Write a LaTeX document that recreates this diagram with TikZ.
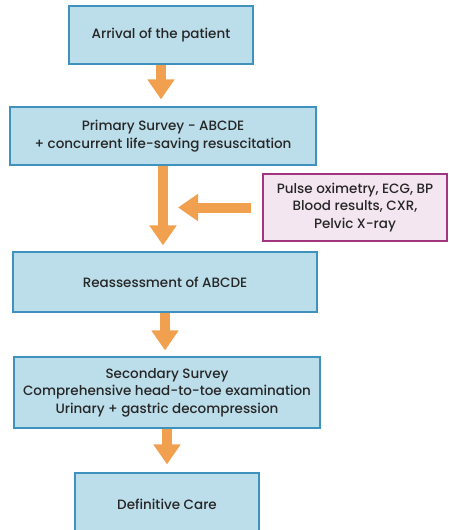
\documentclass[tikz,border=0pt]{standalone}
\usepackage{fontspec}
\setmainfont{Poppins}[UprightFont={* Medium}]
\usepackage{tikz}
\usetikzlibrary{arrows.meta}
\definecolor{bleu}{HTML}{BCDDEA}
\definecolor{bleufonce}{HTML}{3E92BD}
\definecolor{rose}{HTML}{F4E6F1}
\definecolor{violet}{HTML}{A2357F}
\definecolor{orangef}{HTML}{F0A04E}
\tikzset{boite/.style={
    draw=bleufonce,
    fill=bleu,
    line width=1.2pt,
    align=center,
    inner sep=0pt,
    text=black!85,
    font=\fontsize{13.5}{17.5}\selectfont}}
\tikzset{examen/.style={
    boite,
    draw=violet,
    fill=rose}}
\tikzset{fleche/.style={
    draw=orangef,
    line width=10pt,
    -{Triangle[length=20pt,width=26pt]}}}

\begin{document}
\begin{tikzpicture}[x=1pt,y=-1pt]
\useasboundingbox (0,0) rectangle (448,530);

  % boîtes
\node[boite, minimum width=184pt, minimum height=58pt] (arrivee) at (161,35) {Arrival of the patient};
\node[boite, minimum width=306pt, minimum height=58pt] (primaire) at (163,136)
  {Primary Survey - ABCDE\\+ concurrent life-saving resuscitation};
\node[examen, minimum width=184pt, minimum height=67pt] (examens) at (355,207.5)
  {Pulse oximetry, ECG, BP\\Blood results, CXR,\\Pelvic X-ray};
\node[boite, minimum width=304pt, minimum height=60pt] (reeval) at (165,282) {Reassessment of ABCDE};
\node[boite, minimum width=306pt, minimum height=71pt] (secondaire) at (167,392.5)
  {Secondary Survey\\Comprehensive head-to-toe examination\\Urinary + gastric decompression};
\node[boite, minimum width=184pt, minimum height=62pt] (definitif) at (167,504) {Definitive Care};

  % flèches
\draw[fleche, shorten >=7pt] (arrivee.south) -- (arrivee.south |- primaire.north);
\draw[fleche, shorten >=6pt] (primaire.south) -- (primaire.south |- reeval.north);
\draw[fleche, shorten <=11pt, shorten >=15pt] (examens.west) -- (primaire.south |- examens.west);
\draw[fleche, shorten >=6pt] (reeval.south) -- (reeval.south |- secondaire.north);
\draw[fleche, shorten >=8pt] (secondaire.south) -- (secondaire.south |- definitif.north);
\end{tikzpicture}
\end{document}
